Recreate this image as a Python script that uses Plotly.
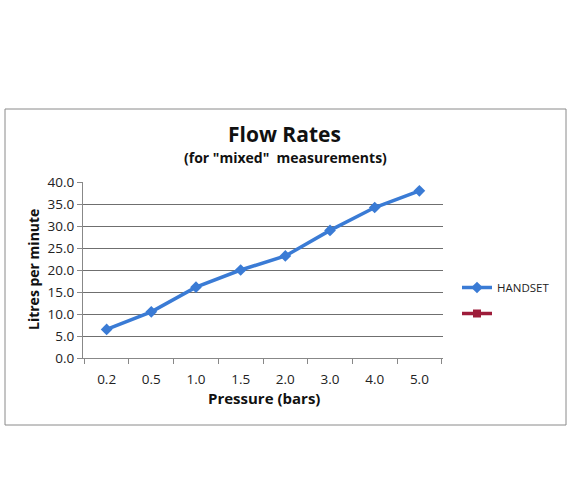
import plotly.graph_objects as go

pressure = ["0.2", "0.5", "1.0", "1.5", "2.0", "3.0", "4.0", "5.0"]
handset = [6.5, 10.5, 16.1, 20.0, 23.2, 29.0, 34.2, 38.0]
y_ticks = [0, 5, 10, 15, 20, 25, 30, 35, 40]

W, H = 570, 504
L, R, T, B = 83, 443, 182, 358  # plot area in pixels


def px_x(x):
    return (x - L) / (R - L)


def px_y(y):
    return (B - y) / (B - T)


fig = go.Figure()
fig.add_trace(go.Scatter(
    x=pressure, y=handset, name="HANDSET", mode="lines+markers", legendgroup="a",
    line=dict(color="#3a7bd5", width=3.5),
    marker=dict(symbol="diamond", size=9, color="#3a7bd5"),
))
# empty second series, only shows in the legend
fig.add_trace(go.Scatter(
    x=[None], y=[None], name=" ", mode="lines+markers", legendgroup="b",
    line=dict(color="#9e1c3a", width=3.5),
    marker=dict(symbol="square", size=8, color="#9e1c3a"),
))

font = "'Open Sans', sans-serif"
fig.update_layout(
    width=W, height=H,
    margin=dict(l=L, r=W - R, t=T, b=H - B),
    paper_bgcolor="white", plot_bgcolor="white",
    font=dict(family=font, size=12, color="#222"),
    showlegend=True,
    legend=dict(x=px_x(457), y=px_y(273), xanchor="left", yanchor="top",
                font=dict(size=11.5, color="#222"), tracegroupgap=7,
                itemwidth=30),
    shapes=[dict(type="rect", xref="paper", yref="paper",
                 x0=px_x(5), x1=px_x(566), y0=px_y(425), y1=px_y(109),
                 line=dict(color="#8a8a8a", width=1), layer="below")],
    annotations=[
        dict(text="<b>Flow Rates</b>", x=px_x(284), y=px_y(134), xref="paper", yref="paper",
             showarrow=False, font=dict(size=21, color="#111"), xanchor="center", yanchor="middle"),
        dict(text="<b>(for \"mixed\"\u00a0\u00a0measurements)</b>", x=px_x(285), y=px_y(157),
             xref="paper", yref="paper", showarrow=False, font=dict(size=14, color="#111"),
             xanchor="center", yanchor="middle"),
        dict(text="<b>Litres per minute</b>", x=px_x(33), y=px_y(270), xref="paper", yref="paper",
             showarrow=False, textangle=-90, font=dict(size=14, color="#111"),
             xanchor="center", yanchor="middle"),
        dict(text="<b>Pressure (bars)</b>", x=px_x(264), y=px_y(398), xref="paper", yref="paper",
             showarrow=False, font=dict(size=15, color="#111"),
             xanchor="center", yanchor="middle"),
    ],
)
fig.update_xaxes(
    type="category", showgrid=False, showline=True, linecolor="#888", linewidth=1,
    ticks="outside", tickson="boundaries", ticklen=5, tickcolor="#888",
    ticklabelstandoff=9,
    tickfont=dict(size=13.5, color="#222"), fixedrange=True,
)
fig.update_yaxes(
    range=[0, 40], tickvals=y_ticks, tickformat=".1f", showgrid=True,
    gridcolor="#6f6f6f", gridwidth=1, showline=True, linecolor="#888", linewidth=1,
    ticks="outside", ticklen=5, tickcolor="#888", zeroline=False,
    tickfont=dict(size=13.5, color="#222"), fixedrange=True,
)

# drop the browser's default body margin so the 570x504 figure fills the window
fig.write_html("out.html", config={"displayModeBar": False},
               post_script="document.body.style.margin = '0';")
